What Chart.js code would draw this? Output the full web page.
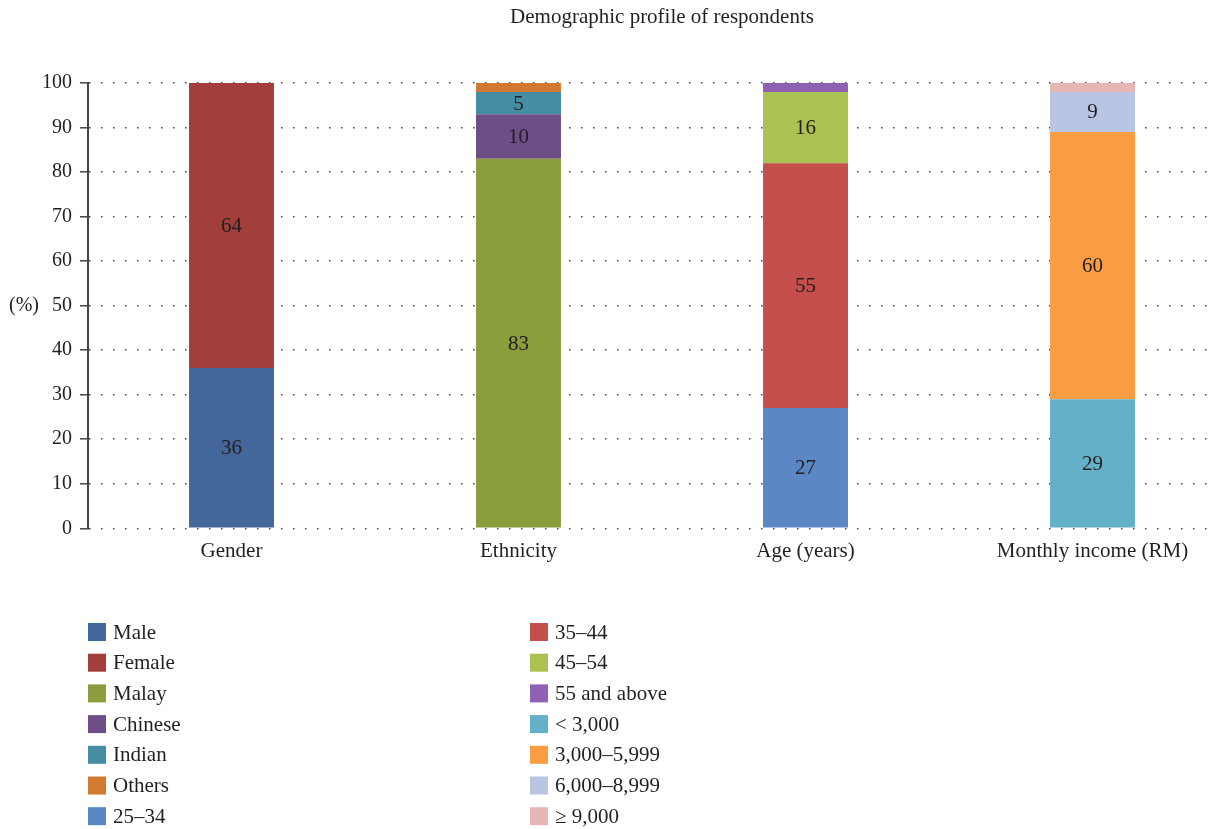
<!DOCTYPE html>
<html>
<head>
<meta charset="utf-8">
<title>Demographic profile of respondents</title>
<script src="https://cdn.jsdelivr.net/npm/chart.js@4/dist/chart.umd.min.js"></script>
<style>
  html, body { margin: 0; padding: 0; background: #fff; }
  #wrap { width: 1217px; height: 829px; overflow: hidden; position: relative; }
  #chart { display: block; }
</style>
</head>
<body>
<div id="wrap"><canvas id="chart" width="1320" height="829"></canvas></div>
<script>
// Survey groups shown on the x axis
const categories = ['Gender', 'Ethnicity', 'Age (years)', 'Monthly income (RM)'];

// One stacked segment per answer; seriesGroup points into categories
const seriesLabels = ['Male', 'Female', 'Malay', 'Chinese', 'Indian', 'Others',
  '25\u201334', '35\u201344', '45\u201354', '55 and above',
  '< 3,000', '3,000\u20135,999', '6,000\u20138,999', '\u2265 9,000'];
const seriesGroup = [0, 0, 1, 1, 1, 1, 2, 2, 2, 2, 3, 3, 3, 3];
const seriesValues = [36, 64, 83, 10, 5, 2, 27, 55, 16, 2, 29, 60, 9, 2];
const seriesColors = ['#44679b', '#a23f3b', '#8a9e3e', '#6f4e87', '#458da3', '#d27a31',
  '#5b87c5', '#c44e4a', '#abc152', '#8f61b5', '#64b0c8', '#f99c42', '#bac5e3', '#e6b6b5'];

// Value axis
const yTicks = [0, 10, 20, 30, 40, 50, 60, 70, 80, 90, 100];
const yTitle = '(%)';
const chartTitle = 'Demographic profile of respondents';

// Segments thinner than this carry no value label
const minLabelValue = 5;

const FONT = '"Liberation Serif", "Times New Roman", serif';
const INK = '#231f20';

const datasets = seriesLabels.map((label, i) => ({
  label: label,
  data: categories.map((_, c) => (c === seriesGroup[i] ? seriesValues[i] : null)),
  backgroundColor: seriesColors[i],
  borderWidth: 0,
  categoryPercentage: 0.296,
  barPercentage: 1.0,
  stack: 'all'
}));

// Value labels centred inside each segment
const segmentLabels = {
  id: 'segmentLabels',
  afterDatasetsDraw(chart) {
    const ctx = chart.ctx;
    ctx.save();
    ctx.font = '21px ' + FONT;
    ctx.fillStyle = INK;
    ctx.textAlign = 'center';
    ctx.textBaseline = 'middle';
    chart.data.datasets.forEach((ds, i) => {
      const meta = chart.getDatasetMeta(i);
      ds.data.forEach((v, j) => {
        if (v == null || v < minLabelValue) return;
        const bar = meta.data[j];
        ctx.fillText(String(v), bar.x, (bar.y + bar.base) / 2 + 1);
      });
    });
    ctx.restore();
  }
};

// Horizontal "(%)" beside the value axis
const yAxisCaption = {
  id: 'yAxisCaption',
  afterDraw(chart) {
    const ctx = chart.ctx;
    const area = chart.chartArea;
    ctx.save();
    ctx.font = '20px ' + FONT;
    ctx.fillStyle = INK;
    ctx.textAlign = 'center';
    ctx.textBaseline = 'middle';
    ctx.fillText(yTitle, 24, (area.top + area.bottom) / 2);
    ctx.restore();
  }
};

// Two-column legend below the axis, filled column by column
const columnLegend = {
  id: 'columnLegend',
  afterDraw(chart) {
    const ctx = chart.ctx;
    const rowsPerColumn = 7;
    const colX = [88, 530];
    const top = 623;
    const rowGap = 30.7;
    const box = 18;
    ctx.save();
    ctx.font = '21px ' + FONT;
    ctx.fillStyle = INK;
    ctx.textAlign = 'left';
    ctx.textBaseline = 'middle';
    chart.data.datasets.forEach((ds, i) => {
      const col = Math.floor(i / rowsPerColumn);
      const row = i % rowsPerColumn;
      const x = colX[col];
      const y = top + row * rowGap;
      ctx.fillStyle = ds.backgroundColor;
      ctx.fillRect(x, y, box, box);
      ctx.fillStyle = INK;
      ctx.fillText(ds.label, x + 25, y + box / 2 + 1);
    });
    ctx.restore();
  }
};

new Chart(document.getElementById('chart'), {
  type: 'bar',
  data: { labels: categories, datasets: datasets },
  plugins: [segmentLabels, yAxisCaption, columnLegend],
  options: {
    responsive: false,
    animation: false,
    devicePixelRatio: 1,
    layout: { padding: { left: 0, right: 84, top: 0, bottom: 253.5 } },
    plugins: {
      legend: { display: false },
      tooltip: { enabled: false },
      title: {
        display: true,
        fullSize: false,
        text: chartTitle,
        color: INK,
        font: { family: FONT, size: 21, weight: 'normal' },
        padding: { top: 5, bottom: 52.8 }
      }
    },
    scales: {
      x: {
        stacked: true,
        grid: { display: false, drawTicks: false },
        border: { display: false },
        ticks: { color: INK, font: { family: FONT, size: 21 }, padding: 11 }
      },
      y: {
        stacked: true,
        min: 0,
        max: 100,
        afterBuildTicks(scale) {
          scale.ticks = yTicks.map(v => ({ value: v }));
        },
        afterFit(scale) { scale.width = 88; },
        grid: {
          color: '#444',
          lineWidth: 1.6,
          drawTicks: true,
          tickLength: 8,
          tickColor: '#444',
          tickWidth: 1.5,
          tickBorderDash: []
        },
        border: { display: true, color: '#444', width: 2, dash: [1.5, 10.5] },
        ticks: { color: INK, font: { family: FONT, size: 20 }, padding: 8 }
      }
    }
  }
});
</script>
</body>
</html>
